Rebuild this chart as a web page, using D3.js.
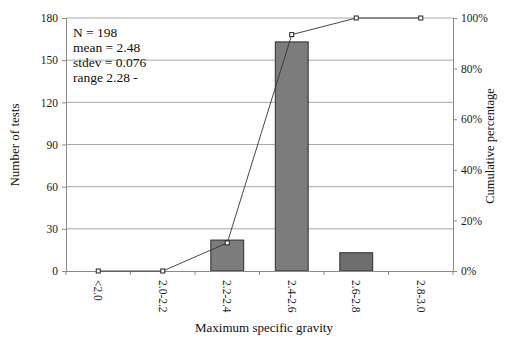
<!DOCTYPE html>
<html>
<head>
<meta charset="utf-8">
<script src="https://cdn.jsdelivr.net/npm/d3@7"></script>
<style>
  html, body { margin: 0; padding: 0; background: #fff; }
  svg { display: block; font-family: "Liberation Serif", "Times New Roman", serif; }
</style>
</head>
<body>
<svg id="chart" width="515" height="344"></svg>
<script>
// Histogram of maximum specific gravity with cumulative percentage line
const categories = ["<2.0", "2.0-2.2", "2.2-2.4", "2.4-2.6", "2.6-2.8", "2.8-3.0"];
const counts = [0, 0, 22, 163, 13, 0];
const countTicks = [0, 30, 60, 90, 120, 150, 180];
const pctTicks = [0, 0.2, 0.4, 0.6, 0.8, 1.0];
const statsLines = ["N = 198", "mean = 2.48", "stdev = 0.076", "range 2.28 -"];

const total = d3.sum(counts);
const cumulative = d3.cumsum(counts).map(v => v / total);

const svg = d3.select("#chart");
const m = { left: 66, right: 453, top: 18, bottom: 271 };

const x = d3.scaleBand().domain(categories).range([m.left, m.right]).paddingInner(0.49).paddingOuter(0.245);
const xPoint = d3.scaleBand().domain(categories).range([m.left, m.right]);
const y = d3.scaleLinear().domain([0, 180]).range([m.bottom, m.top]);
const y2 = d3.scaleLinear().domain([0, 1]).range([m.bottom, m.top]);

// horizontal gridlines
svg.append("g").selectAll("line").data(countTicks.slice(1)).join("line")
  .attr("x1", m.left).attr("x2", m.right)
  .attr("y1", d => y(d)).attr("y2", d => y(d))
  .attr("stroke", "#a8a8a8").attr("stroke-width", 1);

// bars
svg.append("g").selectAll("rect").data(categories).join("rect")
  .attr("x", d => x(d))
  .attr("width", x.bandwidth())
  .attr("y", (d, i) => y(counts[i]))
  .attr("height", (d, i) => y(0) - y(counts[i]))
  .attr("fill", (d, i) => i === 4 ? "#6e6e6e" : "#7c7c7c")
  .attr("stroke", "#2e2e2e").attr("stroke-width", 1);

// left axis
const leftAxis = svg.append("g").attr("transform", `translate(${m.left},0)`)
  .call(d3.axisLeft(y).tickValues(countTicks).tickSize(4).tickPadding(4));
// right axis
const rightAxis = svg.append("g").attr("transform", `translate(${m.right},0)`)
  .call(d3.axisRight(y2).tickValues(pctTicks).tickSize(4).tickPadding(4).tickFormat(d3.format(".0%")));
// bottom axis with ticks at category boundaries
const bottomAxis = svg.append("g").attr("transform", `translate(0,${m.bottom})`)
  .call(d3.axisBottom(xPoint).tickSize(0).tickFormat(""));
bottomAxis.selectAll("line.bound").data(d3.range(categories.length + 1)).join("line")
  .attr("class", "bound")
  .attr("x1", i => m.left + i * xPoint.step()).attr("x2", i => m.left + i * xPoint.step())
  .attr("y1", 0).attr("y2", 4);

[leftAxis, rightAxis, bottomAxis].forEach(g => {
  g.select(".domain").attr("stroke", "#8a8a8a");
  g.selectAll("line").attr("stroke", "#8a8a8a");
  g.selectAll("text").attr("font-size", 11.5).attr("fill", "#1a1a1a").attr("font-family", "Liberation Serif, serif");
});

// rotated category labels
svg.append("g").selectAll("text").data(categories).join("text")
  .attr("transform", d => `translate(${xPoint(d) + xPoint.bandwidth() / 2 - 4},${m.bottom + 9}) rotate(90)`)
  .attr("font-size", 11.5).attr("fill", "#1a1a1a")
  .attr("text-anchor", "start")
  .text(d => d);

// cumulative line and markers
const linePts = categories.map((c, i) => [xPoint(c) + xPoint.bandwidth() / 2, y2(cumulative[i])]);
svg.append("path").datum(linePts)
  .attr("d", d3.line())
  .attr("fill", "none").attr("stroke", "#333").attr("stroke-width", 0.9);
svg.append("g").selectAll("rect").data(linePts).join("rect")
  .attr("x", d => d[0] - 2).attr("y", d => d[1] - 2)
  .attr("width", 4).attr("height", 4)
  .attr("fill", "#fff").attr("stroke", "#222").attr("stroke-width", 1);

// summary statistics
svg.append("g").selectAll("text").data(statsLines).join("text")
  .attr("x", 73).attr("y", (d, i) => 36.5 + i * 15.3)
  .attr("font-size", 13.5).attr("fill", "#111")
  .text(d => d);

// axis titles
svg.append("text")
  .attr("transform", "translate(19,145) rotate(-90)")
  .attr("text-anchor", "middle").attr("font-size", 13).attr("fill", "#111")
  .text("Number of tests");
svg.append("text")
  .attr("transform", "translate(494,146) rotate(-90)")
  .attr("text-anchor", "middle").attr("font-size", 12.5).attr("fill", "#111")
  .text("Cumulative percentage");
svg.append("text")
  .attr("x", 264).attr("y", 332)
  .attr("text-anchor", "middle").attr("font-size", 13).attr("fill", "#111")
  .text("Maximum specific gravity");
</script>
</body>
</html>
